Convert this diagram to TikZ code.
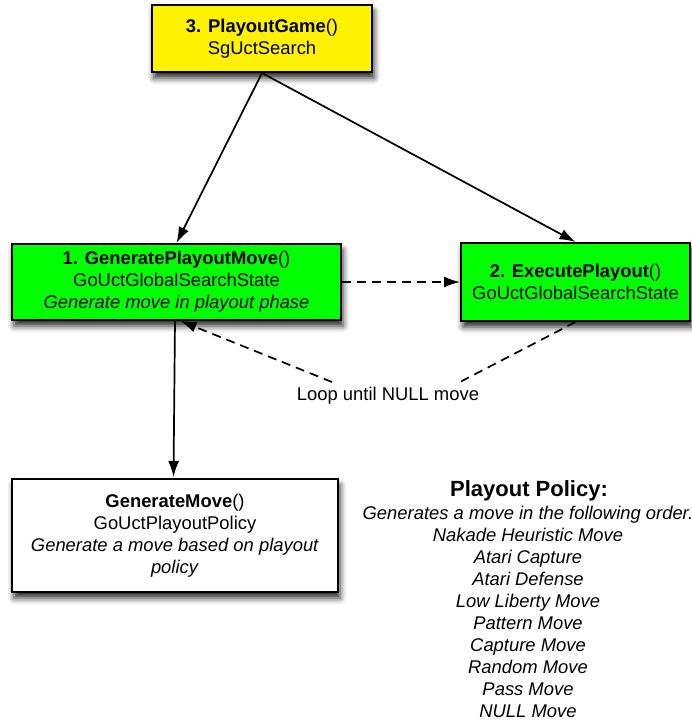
\documentclass[tikz,border=0pt]{standalone}
\usepackage{fontspec}
\setmainfont{Liberation Sans}
\usetikzlibrary{arrows.meta,shadows.blur}

\tikzset{
  box/.style={draw=black, line width=2pt, inner sep=0pt, align=center,
    font=\fontsize{18.4}{22}\selectfont,
    blur shadow={shadow xshift=2pt, shadow yshift=-6pt,
      shadow blur radius=6pt, shadow opacity=85}},
  yellowbox/.style={box, fill=yellow},
  greenbox/.style={box, fill={rgb,255:red,0;green,255;blue,0}},
  whitebox/.style={box, fill=white},
  link/.style={line width=1.7pt, -{Latex[length=16pt,width=11pt]}},
  dashlink/.style={link, dash pattern=on 9pt off 6pt},
  dashline/.style={line width=1.7pt, dash pattern=on 9pt off 6pt},
  plain/.style={inner sep=0pt, align=center, font=\fontsize{18.4}{22}\selectfont}
}

\begin{document}
\begin{tikzpicture}[x=1pt, y=-1pt]
  \useasboundingbox (0,0) rectangle (691,723);

  % call hierarchy boxes
  \node[yellowbox, minimum width=220pt, minimum height=67pt] (play) at (262,38.5)
    {\textbf{3. PlayoutGame}()\\SgUctSearch};
  \node[greenbox, minimum width=329pt, minimum height=76pt] (gen) at (176.5,282)
    {\textbf{1. GeneratePlayoutMove}()\\GoUctGlobalSearchState\\\textit{Generate move in playout phase}};
  \node[greenbox, minimum width=229pt, minimum height=78pt] (exec) at (575.5,282)
    {\textbf{2. ExecutePlayout}()\\GoUctGlobalSearchState};
  \node[whitebox, minimum width=326pt, minimum height=113pt] (policy) at (175,535.5)
    {\textbf{GenerateMove}()\\GoUctPlayoutPolicy\\\textit{Generate a move based on playout}\\\textit{policy}};

  % loop label and policy description
  \node[plain] (loop) at (388,396) {Loop until NULL move};
  \node[plain, anchor=north] (ptitle) at (529,480)
    {\fontsize{22}{24}\selectfont\textbf{Playout Policy:}};
  \node[plain, anchor=north, font=\fontsize{18.4}{22}\selectfont\itshape] (plist) at (528,505.5)
    {Generates a move in the following order.\\Nakade Heuristic Move\\Atari Capture\\Atari Defense\\Low Liberty Move\\Pattern Move\\Capture Move\\Random Move\\Pass Move\\NULL Move};

  % connectors
  \draw[link] (play.south) -- (gen.north);
  \draw[link] (play.south) -- (exec.north);
  \draw[dashlink] (gen.east) -- (exec.west);
  \coordinate (loopR) at (460,382);
  \coordinate (loopL) at (332,382);
  \draw[dashline] (exec.south) -- (loopR);
  \draw[dashlink] (loopL) -- ([xshift=4pt]gen.south);
  \draw[link] ([xshift=-1.5pt]gen.south) -- ([xshift=-1.5pt,yshift=1pt]policy.north);
\end{tikzpicture}
\end{document}
